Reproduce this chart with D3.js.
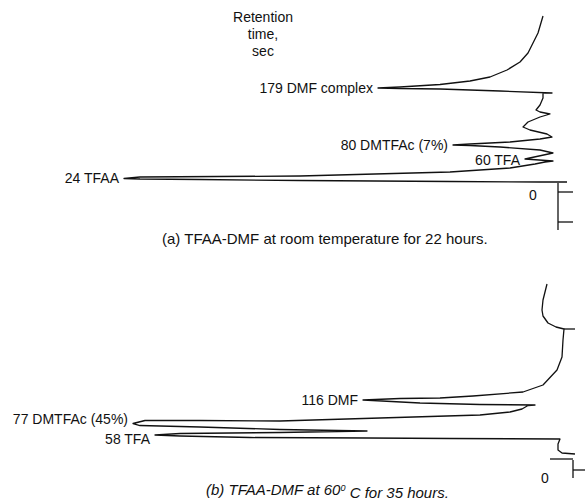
<!DOCTYPE html>
<html>
<head>
<meta charset="utf-8">
<script src="https://cdn.jsdelivr.net/npm/d3@7"></script>
<style>
  body { margin: 0; background: #fff; }
  text { font-family: "Liberation Sans", "DejaVu Sans", sans-serif; font-size: 14px; fill: #111; }
  .cap { font-size: 15px; }
</style>
</head>
<body>
<svg id="chrom" width="585" height="501"></svg>
<script>
// Chart units: pos = distance along the recorder chart (time runs upward),
// resp = detector deflection in % of full scale (0 = baseline, peaks go left).

// (a) TFAA-DMF at room temperature for 22 hours
const posA  = [24, 24, 24.25, 24.75, 25.25, 25.5, 25.75, 26.5, 27, 29, 31, 33, 34,
               34.5, 35.5, 38.5, 40, 41.5, 42.25, 42.5, 43, 44, 45.5, 46.5, 48, 50,
               51.5, 54, 56.5, 58, 59, 60, 62.5, 66, 68.5, 68.5, 69.5, 70.5, 70.75,
               71, 71.5, 72.75, 74.5, 76.5, 80, 84, 88.5, 98.5, 107];
const respA = [-1.8, 3.6, 21.6, 51.6, 71.6, 83.6, 86.8, 83.6, 51.6, 21.6, 9.6, 4.6, 2.6,
               1.0, 6.6, 1.0, 3.6, 11.6, 17.6, 21, 17.6, 9.6, 3.6, 1.2, 2.2, 5.6,
               7, 6, 3.6, 1.6, 3.6, 4.4, 3.6, 3, 3, 1.2, 11.6, 23.6, 31.6,
               36, 31.6, 23.6, 17.6, 13.6, 10.2, 7.6, 6, 4, 3];
const peakLabelsA = ["179 DMF complex", "80 DMTFAc (7%)", "60 TFA", "24 TFAA"];
const peakIdxA    = [39, 19, 14, 6];
const labelShiftA = [0, 0, 1, 0];
// injection mark: vertical stub plus chart ticks
const markSpanA  = [0, 23.5];
const markTicksA = [4, 19];

// (b) TFAA-DMF at 60 C for 35 hours
const posB  = [12, 12.5, 14, 17, 19.5, 19.75, 20, 20.25, 21, 21.5, 22.25, 22.75, 23.5,
               24.25, 25.5, 26.25, 27.25, 28.75, 28.75, 28.5, 30, 31.5, 33, 34.5, 36.25,
               36.5, 36.75, 37.5, 39, 39.75, 40, 41, 43, 46.5, 54, 60.5, 69, 74.5,
               75.5, 77.5, 81, 84, 89, 97];
const respB = [-3, -0.4, 0.4, 0.4, 0, 22, 38.6, 62, 76, 81, 76, 56, 38.6,
               56, 72, 84, 85.4, 83, 72, 56, 36, 16, 10, 7.6, 6.4,
               5, 16, 28, 39.4, 32, 24, 17.4, 7.4, 3.4, 0.6, -0.4, -0.6, -0.8,
               0.8, 2.4, 3.4, 3.6, 3.4, 2.6];
const peakLabelsB = ["116 DMF", "77 DMTFAc (45%)", "58 TFA"];
const peakIdxB    = [28, 16, 9];
const labelShiftB = [0, -4, 4];
const markSpanB  = [0, 9];
const markTicksB = [4];
// short pen stubs: [pos, resp from, resp to]
const stubsB = [[9.5, 2, -2.6], [74.5, -0.8, -3]];

const svg = d3.select("#chrom");

function drawPanel(cfg) {
  const x = d3.scaleLinear().domain([0, 100]).range([cfg.x0, cfg.x0 - 500]);
  const y = d3.scaleLinear().domain([0, 100]).range([cfg.y0, cfg.y0 - 200]);
  const g = svg.append("g");

  const line = d3.line()
    .x(d => x(d[1]))
    .y(d => y(d[0]));

  g.append("path")
    .datum(d3.zip(cfg.pos, cfg.resp))
    .attr("d", line)
    .attr("fill", "none")
    .attr("stroke", "#111")
    .attr("stroke-width", 1.3)
    .attr("stroke-linejoin", "round");

  // injection mark
  g.append("line")
    .attr("x1", x(cfg.markResp)).attr("x2", x(cfg.markResp))
    .attr("y1", y(cfg.markSpan[0])).attr("y2", y(cfg.markSpan[1]))
    .attr("stroke", "#111").attr("stroke-width", 1.3);
  g.selectAll(".tick")
    .data(cfg.ticks)
    .enter().append("line")
    .attr("x1", x(cfg.markResp)).attr("x2", x(cfg.markResp - 3))
    .attr("y1", d => y(d)).attr("y2", d => y(d))
    .attr("stroke", "#111").attr("stroke-width", 1.3);
  g.selectAll(".stub")
    .data(cfg.stubs || [])
    .enter().append("line")
    .attr("x1", d => x(d[1])).attr("x2", d => x(d[2]))
    .attr("y1", d => y(d[0])).attr("y2", d => y(d[0]))
    .attr("stroke", "#111").attr("stroke-width", 1.3);

  // peak labels, just left of each peak tip
  g.selectAll(".peak")
    .data(cfg.labels)
    .enter().append("text")
    .attr("x", (d, i) => x(cfg.resp[cfg.idx[i]]) - 5)
    .attr("y", (d, i) => y(cfg.pos[cfg.idx[i]]) + cfg.shift[i])
    .attr("dy", "0.35em")
    .attr("text-anchor", "end")
    .text(d => d);

  g.append("text")
    .attr("x", x(cfg.zero[0])).attr("y", y(cfg.zero[1]))
    .attr("dy", "0.35em").attr("text-anchor", "middle")
    .text("0");

  return {x, y};
}

drawPanel({x0: 558, y0: 230, pos: posA, resp: respA,
  labels: peakLabelsA, idx: peakIdxA, shift: labelShiftA, markResp: 0,
  markSpan: markSpanA, ticks: markTicksA, zero: [5, 17.5]});

drawPanel({x0: 560, y0: 478, pos: posB, resp: respB,
  labels: peakLabelsB, idx: peakIdxB, shift: labelShiftB, markResp: -2.6,
  markSpan: markSpanB, ticks: markTicksB, stubs: stubsB, zero: [3, 0]});

// header above the peak labels
const header = ["Retention", "time,", "sec"];
svg.selectAll(".hdr")
  .data(header)
  .enter().append("text")
  .attr("x", 263)
  .attr("y", (d, i) => 17 + i * 17)
  .attr("dy", "0.35em")
  .attr("text-anchor", "middle")
  .text(d => d);

svg.append("text")
  .attr("class", "cap")
  .attr("x", 162).attr("y", 239).attr("dy", "0.35em")
  .text("(a) TFAA-DMF at room temperature for 22 hours.");

const capB = svg.append("text")
  .attr("class", "cap")
  .attr("x", 206).attr("y", 490).attr("dy", "0.35em")
  .style("font-style", "italic");
capB.append("tspan").text("(b) TFAA-DMF at 60");
capB.append("tspan").attr("dy", "-0.45em").style("font-size", "9px").text("0");
capB.append("tspan").attr("dy", "0.45em").text(" C for 35 hours.");
</script>
</body>
</html>
